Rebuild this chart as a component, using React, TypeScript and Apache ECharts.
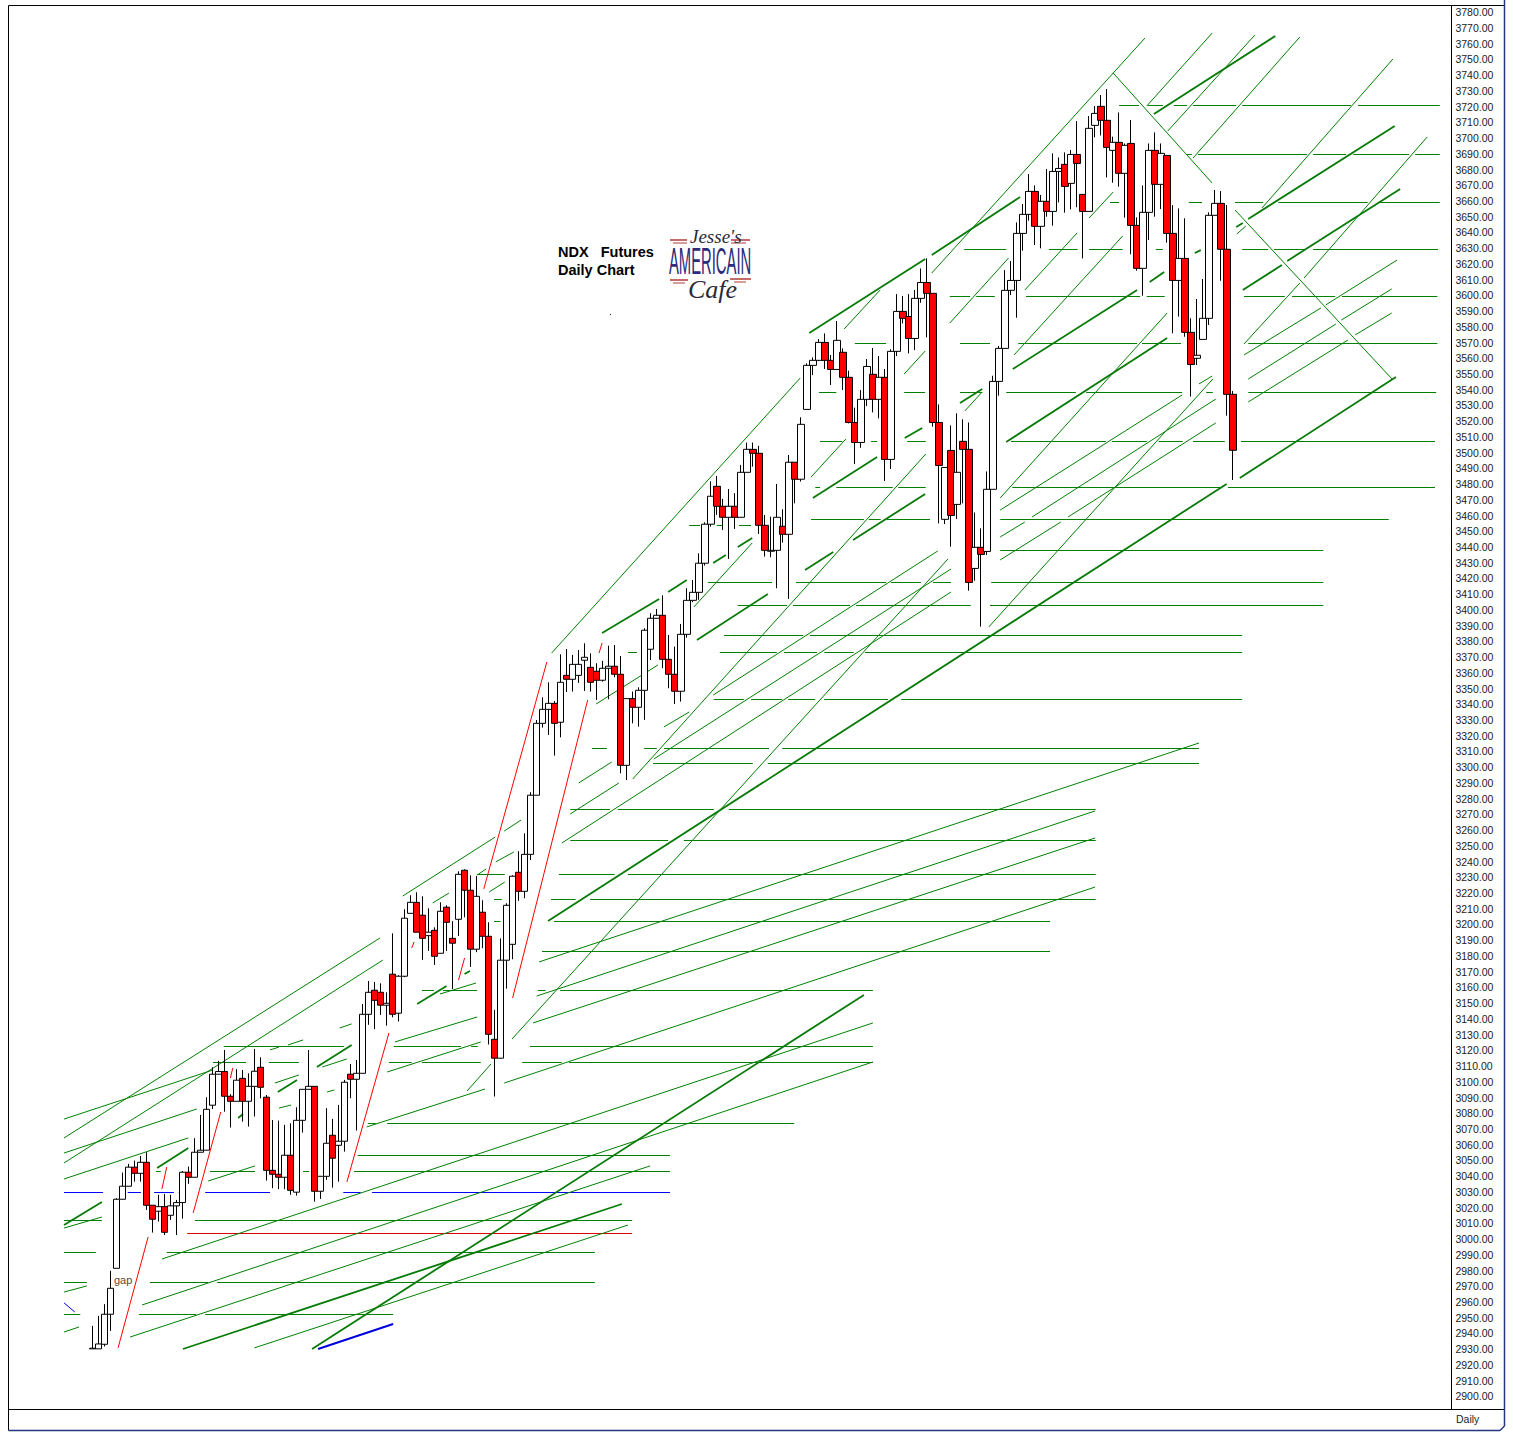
import React, { useEffect, useRef } from "react";
import * as echarts from "echarts";

// Daily candles: [open, close, low, high]
const candlesA = [
[2930.2,2930.6,2930.2,2944.8],[2930.2,2933.3,2930.2,2951.1],[2933.1,2952.2,2931.7,2958.6],[2952.2,2968.7,2941.6,2979.8],[2981.4,3025.3,2981.4,3026],
[3025.3,3033.6,3025.3,3042.3],[3033.6,3045.7,3033.6,3047.8],[3045.7,3041.8,3036.5,3049.9],[3041.8,3048.8,3036.5,3052.9],[3048.8,3021.5,3018.5,3055.2],
[3021.5,3012.6,3004.1,3021.5],[3017.7,3020.6,3011.1,3028.1],[3020.6,3004.3,3002.6,3028.7],[3015.1,3021.1,3012.2,3028.1],[3021.1,3023.2,3002.6,3024.9],
[3023.2,3042.5,3013,3043.3],[3042.5,3039.3,3035.1,3046.1],[3039.3,3055.2,3039.3,3064.1],[3055.2,3056.5,3055.2,3078.9],[3056.5,3082.5,3056.5,3090.2],
[3085.1,3104.8,3082.7,3109.2],[3104.8,3106.5,3104.8,3113.3],[3106.5,3090.8,3081,3120.2],[3090.8,3087.6,3070.9,3092.1],[3087.6,3101,3087.6,3108],
[3102.2,3087.6,3074.7,3107.5],[3087.6,3097.1,3071.5,3105.4],[3097.1,3106.7,3077.9,3120.9],[3109.2,3096.5,3089.5,3115.6],[3090.2,3043.7,3037.2,3091.6],
[3043.7,3041.2,3032.3,3075.7],[3041.2,3039.3,3031.7,3075.3],[3039.3,3053.3,3031.7,3072.6],[3053.3,3031,3028.1,3073.6],[3029.8,3075.5,3027.6,3083.8],
[3075.5,3095.2,3067.7,3095.2],[3095.2,3097.1,3095.2,3120.2],[3097.1,3030.4,3023.8,3097.1],[3030.4,3039.9,3025.5,3039.9],[3039.9,3060.9,3037.6,3083.2],
[3066,3051.4,3032.7,3076.4],[3059.6,3062.2,3036.5,3085.3],[3062.2,3099.7,3055.6,3101.2],[3104.8,3101.6,3089.5,3111.3],[3101.6,3105.4,3069,3113.9],
[3105.4,3142.9,3105.4,3149.5],[3142.9,3156.9,3136.2,3164.1],[3158.2,3151.8,3133.4,3163.5],[3156.9,3148.7,3142.5,3162.6],[3148.7,3149.9,3135.7,3156.9],
[3168.4,3142.9,3141,3194.4],[3143.6,3167.1,3138.3,3167.8],[3167.1,3204,3166.5,3209.7],[3207.1,3214.1,3207.1,3218.6],[3214.1,3195.1,3195.1,3220.5],
[3205.9,3191.2,3177.5,3217.9],[3192.9,3195.1,3183.2,3210.3],[3196.3,3179.8,3174.3,3198.2],[3181.7,3208.4,3181.7,3214.1],[3211,3201.4,3183.2,3212.2],
[3191.2,3188.1,3159,3202.1],[3203.3,3231.9,3192.7,3233.8],[3234.5,3221.8,3204.6,3235.1],[3221.8,3184.3,3173,3231.3],[3184.3,3217.9,3182.4,3230.9],
[3207.8,3192.5,3184.9,3215.4],[3192.5,3130.2,3123.7,3201.4],[3127,3115,3090.6,3145.7],[3115,3177.3,3115,3191.2],[3177.3,3212.2,3159.2,3213.5],
[3187.4,3230.7,3177.9,3231.3],[3233.2,3221.1,3215,3246.6],[3221.1,3244.6,3216.7,3258],[3244.6,3282.2,3241,3284.1],[3282.2,3327.9,3282.2,3330],
[3327.9,3336.8,3325.2,3344.5],[3336.8,3340.6,3320.5,3354],[3340.6,3327.9,3307.4,3342.1],[3328.6,3354,3319,3371.8],[3358.4,3355.9,3347.8,3375.2],
[3355.9,3365.4,3348.1,3371.4],[3358.4,3365.4,3353.6,3374.5],[3368,3369.9,3348.5,3378.8],[3363.5,3354,3348.1,3372.4],[3361,3355.3,3342.8,3366.1],
[3355.3,3362.9,3354.4,3367.6],[3362.9,3364.2,3343.2,3377.3],[3364.2,3359.1,3357.2,3377.7],[3359.1,3301.2,3296.1,3370.7],[3301.2,3343.6,3291.9,3343.6],
[3343.6,3338.1,3327.9,3348.1],[3338.1,3348.9,3325.8,3350.8],
];
const candlesB = [
[3348.9,3387.1,3330.1,3388.3],[3375,3394.7,3368.2,3397.9],[3394.7,3396.6,3394.7,3400.6],[3396.6,3368.6,3362.9,3409.3],[3368.6,3359.1,3350.2,3384.1],
[3359.1,3348.3,3340.2,3376.7],[3348.3,3384.5,3341.7,3391.1],[3384.5,3406.1,3382.4,3413.8],[3406.1,3411.2,3404.9,3419.1],[3411.2,3429.7,3406.4,3436],
[3429.7,3454.5,3428.2,3455.7],[3454.5,3472.3,3453,3481.8],[3478.6,3465.9,3460.4,3485.2],[3465.9,3458.9,3450.9,3470.6],[3458.9,3465.9,3432.4,3476.9],
[3465.9,3458.9,3451.5,3474.2],[3458.9,3487.5,3458.9,3492.2],[3487.5,3502.1,3487.5,3506.4],[3502.1,3499.6,3491.1,3506.4],[3499.6,3453.8,3448.3,3504.3],
[3453.8,3437.9,3433.9,3460.4],[3437.3,3437.9,3433.5,3459.3],[3437.9,3458.9,3413.8,3480.1],[3453.2,3448.1,3442.8,3464],[3448.1,3493.9,3407,3498.5],
[3493.9,3483.1,3467.8,3493.9],[3483.1,3518,3481.6,3522.5],[3527.5,3555.5,3527.5,3556.8],[3555.5,3558.7,3549.3,3560.6],[3558.7,3570.1,3558.2,3572.2],
[3570.1,3558.7,3553.2,3575.8],[3558.7,3552.9,3543,3562.1],[3552.9,3571.4,3552.9,3583.7],[3563.8,3547.9,3539.8,3566.3],[3547.9,3519.2,3518.6,3552.1],
[3519.2,3506.5,3492.8,3528.6],[3506.5,3533.9,3503.1,3539.8],[3533.9,3554.8,3529.6,3559.5],[3549.8,3533.9,3525.6,3566.5],[3533.9,3547.9,3521.8,3561.4],
[3547.9,3495.7,3482,3553.2],[3495.7,3564.4,3489.6,3565.7],[3564.4,3589.8,3561.4,3600.8],[3589.8,3585.4,3582.2,3599.6],[3586.6,3572.6,3563.1,3600.8],
[3572.6,3598.1,3565.2,3603.4],[3598.1,3608.2,3595.3,3617.1],[3608.2,3601.3,3573.3,3623.5],[3601.3,3519.2,3516.5,3601.3],[3519.2,3491.9,3455,3530.7],
[3457.6,3490.6,3454.6,3490.6],[3501.4,3460.1,3440.2,3517.3],[3467.1,3487.5,3457.8,3525],[3507.2,3502.1,3467.8,3521.2],[3502.1,3417.5,3412.2,3519.2],
[3426.4,3439.8,3418.6,3462],[3439.8,3435.3,3389.4,3451.9],[3437.2,3476.7,3434.9,3488.1],[3476.7,3545.3,3476.7,3548.9],[3545.3,3566.3,3536.2,3567.8],
[3566.3,3603.2,3566.3,3616.1],[3603.2,3609.5,3600.2,3621.8],[3609.5,3639.4,3585.8,3646.4],[3639.4,3651.5,3628.4,3658.1],[3651.5,3666.1,3647.5,3677.1],
[3666.1,3643.9,3632,3669.9],[3643.9,3659.8,3629.9,3663.8],[3659.8,3653.4,3650,3680.3],[3653.4,3678.8,3644.3,3690.3],[3678.8,3680.7,3659.1,3687.7],
[3683.3,3669.3,3652.6,3690.9],[3671.2,3689.6,3654.7,3692.4],[3689.6,3683.9,3656,3710.8],[3664.2,3653.4,3623.5,3664.2],[3653.4,3706.2,3653.4,3714],
[3708.1,3715.7,3700.5,3720.4],[3720.2,3711.3,3701.7,3727.4],[3711.3,3694.1,3675,3731.2],[3692.2,3697.3,3671.6,3700.9],[3697.3,3677.6,3669.1,3716.3],
[3677.6,3695.4,3649.4,3696.6],[3696.6,3644.5,3626.1,3711.5],[3644.5,3617.2,3615.7,3649.6],[3617.2,3652.8,3599.8,3669.9],[3652.8,3692.2,3635.2,3696.6],
[3692.2,3670.6,3650,3703.6],[3670.6,3690.3,3654.9,3696.6],[3689,3639.4,3633.5,3689],[3639.4,3609.5,3575.9,3657.4],[3609.5,3623.5,3586.5,3655.3],
[3623.5,3576.5,3573.7,3649],[3576.5,3556.1,3535.6,3585.4],[3560,3561.9,3555.7,3597.7],[3572,3585.4,3572,3610.4],[3585.4,3650.9,3581.2,3652.8],
[3650.9,3658.5,3650.9,3667],[3658.5,3629.3,3609.3,3666.3],[3629.3,3537.1,3523.5,3657.4],[3537.1,3501.5,3482.6,3539.2],
];

// Support / resistance levels: [price, bar, bar, bar, bar ...] (pairs of bars are drawn segments)
const greenLevels = [
[3720.72,171,174.3,175.8,178.3,180.1,182.3,183.3,190.5,191.5,209.6,210.8,224.4],
[3689.57,182.3,183.1,184.1,202.3,203.3,208.8,210,219.3,220.3,224.4],
[3659.05,169.5,171,182.6,184.8,190.3,195,197.5,212.4,214.1,224.4],
[3629.17,145.2,152.2,159.3,164.1,166,171.6,177.1,178.3,191.5,195.8,196.8,202,203.3,224.1],
[3599.29,142.8,146.2,147.2,150.3,155.5,174.5,175.6,178.6,191.8,198.6,199.8,207,208.1,224],
[3569.4,127,132.2,144.5,149.5,154.2,174,174.8,181.3,192.5,224],
[3538.25,121,123.9,135.2,138.7,144.5,148.2,152.2,163.8,165.5,181.5,185.5,186.6,192.5,223.8],
[3507.09,121.2,124.9,129.7,130.7,135.7,138.8,153,168.8,169.8,175.6,177.6,181.6,183.3,188.6,191.3,223.6],
[3477.85,120.4,121.2,123.9,133.3,134.2,138.8,153.2,187.8,189.1,223.6],
[3457.5,119.7,128.5,129.3,131.3,132.3,139.5,151.2,215.9],
[3453.69,99.4,101.2,104,104.9,107.7,109.7],
[3437.79,151.2,205],
[3417.45,102.5,113.2,117.2,132.2,133,138,140,143,149.7,205],
[3402.82,107.5,115.7,116.7,126.2,127.2,146.3,149.5,205],
[3383.75,105.2,118.4,119.5,191.5],
[3372.94,89.2,90.7,104.5,114,115.2,120.7,121.9,126.8,128.7,191.5],
[3343.06,103.5,108.5,109.7,114.9,115.9,120.4,121.9,132.5,134.7,191.5],
[3311.9,83.2,85.7,91.9,94,95.2,112.7,114.9,184.3],
[3302.37,93.4,110,112.5,184.3],
[3273.12,79.6,86.2,87.5,103.5,106,167.1],
[3253.41,79.6,95.9,98.5,167.1],
[3231.79,64.1,68.7,77.7,87,89.2,167.1],
[3215.9,66.9,68.2,76.4,80.5,82.9,167.1],
[3201.91,66.9,68,76.9,159.5],
[3182.84,74.9,159.5],
[3158.04,54.9,56.9,58.4,64.1,74.2,75.5,77.9,130],
[3122.44,21.9,41.9,50.2,61.4,63.1,64.2,72.9,130],
[3112.26,20.1,25.6,29.4,34.4,49.4,53.2,54.9,64.7,71.6,78.2,79.4,130],
[3073.48,45.9,47.2,49.1,116.9],
[3053.13,44.2,96.2],
[3042.96,10.6,11.4,19.6,27.1,35.1,36.1,43.6,96.2],
[3011.81,-4.7,1.6,17.1,89.9],
[2991.46,-4.7,0.6,12.4,83.7],
[2972.39,-4.7,-0.9,9.6,19.3,20.8,83.7],
[2952.04,-4.7,-2,7.8,17.3,18.8,50.1],
];
const blueLevels = [[3029.61,-4.7,1.8,5.9,8.1,10.3,13.6,14.4,15.6,18.8,29.6,41.8,44.7,46.6,96.2]];
const redLevels = [[3003.54,15.8,89.9]];

// Trend lines: [bar, price, bar, price]
const heavyTrends = [
[75.9,3202.2,188.9,3480.1],[191.1,3483.9,217.1,3548.1],[119.4,3576.1,138.7,3623.1],[139.8,3625.7,154.5,3662.5],
[153.3,3553.2,174,3603.4],[152.2,3506.8,179,3572.9],[176.8,3715.3,197,3764.9],[192.5,3648.6,216.9,3707.7],
[199,3621.9,217.8,3667.6],[191.6,3603.4,198.1,3619.3],[190.5,3643.5,191.6,3646],[176.1,3608.5,178.5,3614.9],
[183.6,3626.9,184.6,3628.8],[144.5,3531.6,148.2,3540.5],[135.3,3509.3,138.2,3515.7],[120,3471.2,130.7,3497.2],
[126.7,3444.5,138.7,3473.7],[118.7,3425.4,123.4,3436.8],[84.9,3385.3,94.4,3407],[95.9,3411.4,99,3419],
[100.7,3380.9,112.5,3410.1],[103.4,3429.8,105.5,3434.9],[107.5,3440,109.9,3445.7],[54.1,3149.5,59,3160.9],
[62,3168.5,62.9,3170.4],[37.4,3109.4,43.2,3123.4],[-4.7,3008.9,1.6,3023.6],[10.8,3045.2,16,3057.9],
[30.9,3093.5,34.1,3101.1],[24.3,3077,25.1,3079.5],[15.1,2930.1,88.2,3022.3],[36.6,2930.1,128.5,3155.2],
];
const blueHeavyTrends = [[37.6,2930.1,50.1,2946]];
const thinTrends = [
[76.5,3372.6,117.9,3547.5],[125.2,3578.6,131.2,3603.4],[139.8,3614.2,175.3,3763.6],[175.6,3720.4,186.5,3766.8],
[179.1,3704.5,193.6,3765.5],[183.3,3687.3,201.1,3764.3],[194.8,3655.6,216.6,3750.3],[191.8,3569.1,201.1,3607.9],
[201.8,3611,222.3,3700.7],[190.6,3639,192.1,3644.1],[166,3649.2,170,3665.7],[153.5,3562.1,171.6,3637.8],
[155.3,3603.4,164,3639.7],[69.9,3127.2,142.5,3432.4],[151.2,3471.2,179,3588.8],[149.3,3389.2,186.6,3546.8],
[90,3292.5,138.8,3499.1],[135.2,3550,138.7,3564.6],[142.8,3582.4,152.6,3623.8],[119.7,3484.5,125.5,3508.7],
[145.3,3526.5,148.2,3538.6],[103.4,3345.9,140.8,3437.5],[151.2,3463.5,181.5,3536.7],[93.5,3305.2,143,3426],
[151.2,3446.4,155.3,3455.9],[78.2,3251.8,143,3411.4],[151.2,3431.8,161.3,3455.9],[79.6,3270.3,87.7,3290],
[81,3290,86.5,3303.3],[83.9,3340.2,94.2,3365],[95.2,3325.6,99.4,3335.1],[100.2,3401.9,109.9,3442.6],
[51.7,3218.1,67.1,3255.6],[56.7,3213.7,59.4,3220],[64.1,3231.5,65.6,3235.3],[66.1,3220.7,68.7,3227],
[67.2,3239.8,70.2,3246.1],[68.6,3259.4,71.4,3266.4],[-4.7,3064.3,47.9,3191.4],[-4.7,3048.4,48.4,3177.4],
[41.2,3134.2,43.2,3136.8],[50.4,3125.3,64.1,3141.2],[49.1,3106.2,64.7,3125.3],[57.9,3155.8,63.9,3162.8],
[45.7,3071.3,65.4,3095.4],[62.4,3094.1,66.4,3111.3],[74.4,3176.2,184.3,3315.4],[74,3154.5,167,3272.2],
[73.4,3137.4,167,3255],[68.6,3099.2,167,3223.8],[-4.7,3076.3,20.1,3107.5],[-4.7,3054.7,17.4,3082.7],
[-4.7,3038.2,16,3064.3],[-4.7,3007,1.6,3014],[-4.7,2966.3,-0.9,2970.2],[-4.7,2940.9,-2.2,2944.1],
[19.3,3036.9,27.1,3046.5],[30.4,3099.2,34.4,3104.3],[31.1,3083.3,33.1,3085.2],[29.6,3120.2,31.1,3122.1],
[32.6,3123.4,35.1,3126.6],[39.1,3093.5,40.3,3094.8],[38.3,3109.4,42.4,3114.5],[11.6,2987.3,130,3137.4],
[8.3,2958.1,130,3112.6],[6.3,2937.7,92.9,3046.5],[27,2930.8,89.2,3008.9],[191.8,3562.1,204.6,3592],
[205.4,3593.9,217.3,3622.5],[192.5,3546.8,207.1,3581.8],[208,3584.3,216.4,3604.1],[192.5,3532.2,209.1,3571.6],
[210.3,3574.8,216.4,3588.8],[170,3741.4,186.5,3671.4],[190.3,3654.3,216.6,3546.2],[156.5,3459.1,187.1,3534.1],
[162.5,3459.1,187.1,3518.9],[184.3,3543.7,186.5,3548.7],
];
const redTrends = [
[4.3,2930.8,9.3,3001.3],[16.8,3016.6,21.4,3080.8],[11.6,3031.8,12.4,3045.8],[23,3102.4,23.4,3108.8],
[42.4,3036.3,49.4,3131],[53.2,3185.1,53.6,3188.9],[61,3164.7,62,3178.7],[70,3153.3,82.5,3342.7],
[65.2,3222.6,75.7,3366.9],[84.4,3372.6,84.9,3379],
];
const blueThinTrends = [[-4.7,2959.4,-2.9,2953.6]];

const LEAD_BARS = 13;
const TOTAL_BARS = 240;
const candles = [...candlesA, ...candlesB];
const priceTicks = { min: 2890, max: 3785, step: 10, firstLabel: 2900, lastLabel: 3780 };

const levelsToCoords = (levels: number[][]) =>
  levels.flatMap(([p, ...bars]) => {
    const out: any[] = [];
    for (let i = 0; i + 1 < bars.length; i += 2) out.push({ coords: [[bars[i], p], [bars[i + 1], p]] });
    return out;
  });
const trendsToCoords = (t: number[][]) => t.map(([a, b, c, d]) => ({ coords: [[a, b], [c, d]] }));

const linesSeries = (data: any[], color: string, width: number) => ({
  type: "lines",
  coordinateSystem: "cartesian2d",
  xAxisIndex: 1,
  yAxisIndex: 0,
  silent: true,
  z: 2,
  lineStyle: { color, width, opacity: 1, curveness: 0 },
  data,
});

const hline = (x1: number, y1: number, x2: number, y2: number, stroke: string, lineWidth = 1) => ({
  type: "line",
  silent: true,
  shape: { x1, y1, x2, y2 },
  style: { stroke, lineWidth },
});

const text = (t: string, x: number, y: number, font: string, fill: string, extra: any = {}) => ({
  type: "text",
  silent: true,
  x,
  y,
  ...extra,
  style: { text: t, font, fill, textVerticalAlign: "middle" },
});

export default function App() {
  const ref = useRef<HTMLDivElement>(null);
  useEffect(() => {
    const chart = echarts.init(ref.current!, null, { renderer: "svg" });
    chart.setOption({
      animation: false,
      backgroundColor: "#ffffff",
      grid: { left: 11.2, top: 4.404, width: 1441.2, height: 1407.66, containLabel: false },
      xAxis: [
        { type: "category", show: false, data: Array.from({ length: TOTAL_BARS }, (_, i) => String(i - LEAD_BARS)) },
        { type: "value", show: false, min: -LEAD_BARS - 0.5, max: TOTAL_BARS - LEAD_BARS - 0.5, splitLine: { show: false } },
      ],
      yAxis: {
        type: "value",
        position: "right",
        min: priceTicks.min,
        max: priceTicks.max,
        interval: priceTicks.step,
        axisLine: { show: false },
        axisTick: { show: false },
        splitLine: { show: false },
        axisLabel: {
          show: true,
          margin: 3,
          fontFamily: "Liberation Sans",
          fontSize: 10.5,
          color: "#1c1c1c",
          hideOverlap: false,
          formatter: (v: number) =>
            v < priceTicks.firstLabel || v > priceTicks.lastLabel ? "" : v.toFixed(2),
        },
      },
      series: [
        linesSeries(levelsToCoords(greenLevels), "#008000", 1),
        linesSeries(levelsToCoords(blueLevels), "#0000ff", 1),
        linesSeries(levelsToCoords(redLevels), "#e00000", 1),
        linesSeries(trendsToCoords(thinTrends), "#008000", 1),
        linesSeries(trendsToCoords(redTrends), "#ff0000", 1),
        linesSeries(trendsToCoords(blueThinTrends), "#0000ff", 1),
        linesSeries(trendsToCoords(heavyTrends), "#067a06", 1.8),
        linesSeries(trendsToCoords(blueHeavyTrends), "#0000e0", 2),
        {
          type: "candlestick",
          xAxisIndex: 0,
          yAxisIndex: 0,
          z: 5,
          silent: true,
          barWidth: 7,
          encode: { x: 0, y: [1, 2, 3, 4] },
          itemStyle: {
            color: "#ffffff",
            color0: "#ff0000",
            borderColor: "#000000",
            borderColor0: "#000000",
            borderWidth: 1,
          },
          data: candles.map((c, i) => [i + LEAD_BARS, ...c]),
        },
      ],
      graphic: [
        hline(8.5, 5.5, 1504.5, 5.5, "#000000"),
        hline(8.5, 5.5, 8.5, 1430.5, "#000000"),
        hline(1451.5, 5.5, 1451.5, 1409.5, "#000000"),
        hline(8.5, 1409.5, 1504.5, 1409.5, "#000000"),
        hline(8.5, 1430.5, 1500, 1430.5, "#26367f", 1.5),
        hline(1504.5, 0, 1504.5, 1426, "#26367f", 1.5),
        hline(1500, 1430.5, 1504.5, 1426, "#26367f", 1.5),
        text("Daily", 1456, 1418.5, "10.5px 'Liberation Sans'", "#1c1c1c"),
        text("NDX   Futures", 558, 252, "bold 14.5px 'Liberation Sans'", "#000000"),
        text("Daily Chart", 558, 270, "bold 14.5px 'Liberation Sans'", "#000000"),
        text("gap", 114, 1279.5, "11px 'Liberation Sans'", "#5a4a30"),
        { type: "circle", silent: true, shape: { cx: 610.5, cy: 314.5, r: 0.6 }, style: { fill: "#333" } },
        hline(670, 240, 687, 240, "#b03a3a", 1.5),
        hline(673, 243, 687, 243, "#b03a3a", 1),
        hline(731, 240, 750, 240, "#b03a3a", 1.5),
        hline(731, 243, 746, 243, "#b03a3a", 1),
        hline(670, 280, 688, 280, "#b03a3a", 1.5),
        hline(673, 283, 685, 283, "#b03a3a", 1),
        hline(730, 279, 751, 279, "#b03a3a", 1.5),
        hline(734, 282, 746, 282, "#b03a3a", 1),
        text("Jesse's", 690, 236, "italic 19px 'Liberation Serif'", "#2a2a38"),
        text("AMERICAIN", 669, 261, "37px 'Liberation Sans'", "#2c2c7c", { scaleX: 0.4 }),
        text("Cafe", 688, 289, "italic 26px 'Liberation Serif'", "#2a2a38"),
      ],
    });
    return () => chart.dispose();
  }, []);
  return <div ref={ref} style={{ position: "fixed", left: 0, top: 0, width: 1513, height: 1443 }} />;
}
